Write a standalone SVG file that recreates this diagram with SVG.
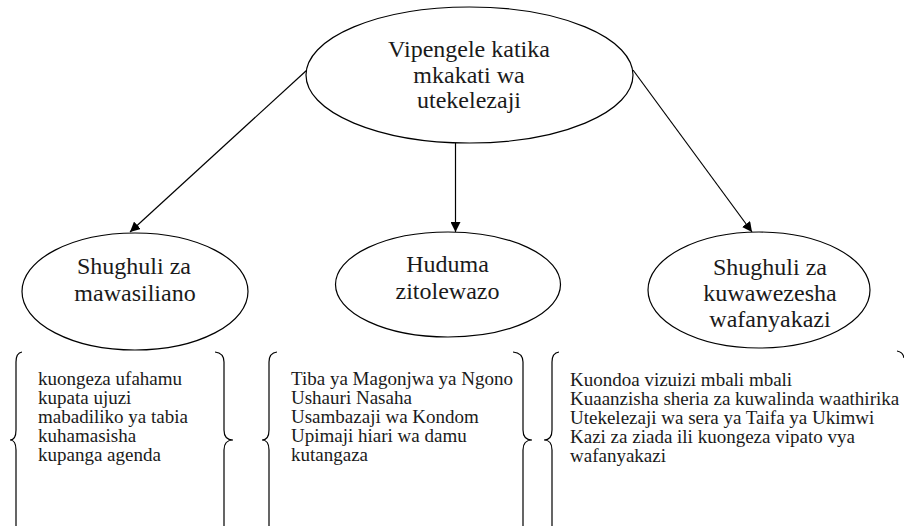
<svg xmlns="http://www.w3.org/2000/svg" width="904" height="526" viewBox="0 0 904 526">
  <style>
    .node ellipse { fill: #ffffff; stroke: #000000; stroke-width: 1.2; }
    .label { font-family: "Liberation Serif", "Times New Roman", serif; font-size: 24px; fill: #1a1a1a; text-anchor: middle; }
    .item { font-family: "Liberation Serif", "Times New Roman", serif; font-size: 19px; fill: #1a1a1a; }
    .edge { stroke: #000000; stroke-width: 1.2; fill: none; marker-end: url(#arrow); }
    .brace { stroke: #000000; stroke-width: 1.2; fill: none; }
  </style>
  <defs>
    <marker id="arrow" viewBox="0 0 10 10" refX="10" refY="5" markerWidth="10" markerHeight="10" markerUnits="userSpaceOnUse" orient="auto">
      <path d="M0,0 L10,5 L0,10 z" fill="#000000"/>
    </marker>
    <clipPath id="clip-right">
      <rect x="640" y="230" width="240" height="102"/>
    </clipPath>
  </defs>

  <rect width="904" height="526" fill="#ffffff"/>

  <!-- connectors -->
  <g id="connectors">
    <line class="edge" x1="307" y1="70" x2="130" y2="232"/>
    <line class="edge" x1="455.5" y1="143" x2="455.5" y2="232"/>
    <line class="edge" x1="633" y1="70" x2="752" y2="232"/>
  </g>

  <!-- root -->
  <g id="node-root" class="node">
    <ellipse cx="469.5" cy="75" rx="163.5" ry="68"/>
    <text class="label" x="469" y="57">Vipengele katika</text>
    <text class="label" x="469" y="83">mkakati wa</text>
    <text class="label" x="469" y="108">utekelezaji</text>
  </g>

  <!-- branch: communication -->
  <g id="node-mawasiliano" class="node">
    <ellipse cx="135" cy="291.5" rx="113" ry="58.5"/>
    <text class="label" x="134" y="274">Shughuli za</text>
    <text class="label" x="135" y="301">mawasiliano</text>
  </g>

  <!-- branch: services -->
  <g id="node-huduma" class="node">
    <ellipse cx="448" cy="284.5" rx="112.5" ry="52.5"/>
    <text class="label" x="447.5" y="272">Huduma</text>
    <text class="label" x="447.5" y="299">zitolewazo</text>
  </g>

  <!-- branch: empowerment -->
  <g id="node-kuwawezesha" class="node">
    <ellipse cx="759" cy="290" rx="111" ry="58"/>
    <g clip-path="url(#clip-right)">
      <text class="label" x="770" y="275">Shughuli za</text>
      <text class="label" x="770" y="301">kuwawezesha</text>
      <text class="label" x="770" y="327">wafanyakazi</text>
    </g>
  </g>

  <!-- list: communication activities -->
  <g id="list-mawasiliano">
    <path class="brace" d="M22,352 Q16,353 16,362 L16,430 Q16,440 10,440 Q16,440 16,450 L16,530"/>
    <path class="brace" d="M215,352 Q224,353 224,362 L224,430 Q224,440 233,440 Q224,440 224,450 L224,530"/>
    <text class="item" x="38" y="385">kuongeza ufahamu</text>
    <text class="item" x="38" y="404">kupata ujuzi</text>
    <text class="item" x="38" y="423">mabadiliko ya tabia</text>
    <text class="item" x="38" y="442">kuhamasisha</text>
    <text class="item" x="38" y="461">kupanga agenda</text>
  </g>

  <!-- list: services -->
  <g id="list-huduma">
    <path class="brace" d="M277,352 Q269,353 269,362 L269,430 Q269,440 262,440 Q269,440 269,450 L269,530"/>
    <path class="brace" d="M513,352 Q523,353 523,362 L523,430 Q523,440 532,440 Q523,440 523,450 L523,530"/>
    <text class="item" x="291" y="385">Tiba ya Magonjwa ya Ngono</text>
    <text class="item" x="291" y="404">Ushauri Nasaha</text>
    <text class="item" x="291" y="423">Usambazaji wa Kondom</text>
    <text class="item" x="291" y="442">Upimaji hiari wa damu</text>
    <text class="item" x="291" y="461">kutangaza</text>
  </g>

  <!-- list: empowerment -->
  <g id="list-kuwawezesha">
    <path class="brace" d="M559,352 Q552,353 552,362 L552,430 Q552,440 544,440 Q552,440 552,450 L552,530"/>
    <path class="brace" d="M897,351 Q903,352 904,358"/>
    <text class="item" x="570" y="386">Kuondoa vizuizi mbali mbali</text>
    <text class="item" x="570" y="405">Kuaanzisha sheria za kuwalinda waathirika</text>
    <text class="item" x="570" y="424">Utekelezaji wa sera ya Taifa ya Ukimwi</text>
    <text class="item" x="570" y="443">Kazi za ziada ili kuongeza vipato vya</text>
    <text class="item" x="570" y="462">wafanyakazi</text>
  </g>
</svg>
